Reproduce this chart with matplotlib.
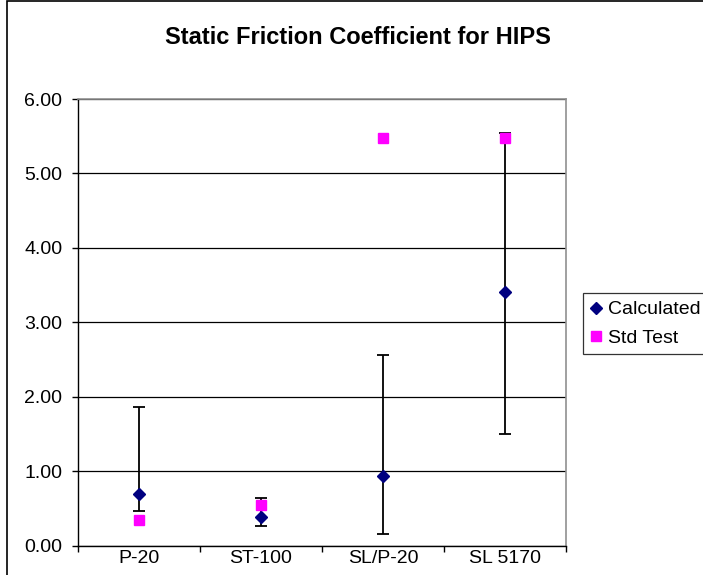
import matplotlib
matplotlib.use("Agg")
import matplotlib.pyplot as plt
from matplotlib.patches import Rectangle
import numpy as np

plt.rcParams['font.family'] = ['Liberation Sans', 'DejaVu Sans']

categories = ["P-20", "ST-100", "SL/P-20", "SL 5170"]
calculated = [0.69, 0.39, 0.94, 3.41]
calc_low = [0.47, 0.26, 0.16, 1.50]
calc_high = [1.86, 0.64, 2.56, 5.54]
std_test = [0.35, 0.54, 5.47, 5.47]
yticks = [0, 1, 2, 3, 4, 5, 6]

W, H = 703, 575
fig = plt.figure(figsize=(W / 100, H / 100), dpi=100)

# outer chart frame
fig.patches.append(Rectangle((7 / W, -0.1), 1.2, (H - 1) / H + 0.1, transform=fig.transFigure,
                             fill=False, edgecolor='black', linewidth=1.2))

ax = fig.add_axes([78 / W, (H - 545.7) / H, (566 - 78) / W, (545.7 - 99) / H])

x = np.arange(len(categories))
calc = np.array(calculated)
yerr = np.array([calc - np.array(calc_low), np.array(calc_high) - calc])

ax.errorbar(x, calc, yerr=yerr, fmt='none', ecolor='black', elinewidth=1.3,
            capsize=4.2, capthick=1.3, zorder=3)
ax.plot(x, calc, linestyle='none', marker='D', color='#000080', markersize=6.2, zorder=4,
        label='Calculated')
ax.plot(x, std_test, linestyle='none', marker='s', color='#FF00FF', markersize=7.5, zorder=5,
        label='Std Test')

ax.set_xlim(-0.5, len(categories) - 0.5)
ax.set_ylim(0, 6)
ax.set_yticks(yticks)
ax.set_yticklabels([f"{v:.2f}" for v in yticks], fontsize=14)
ax.yaxis.grid(True, color='black', linewidth=0.9)
ax.set_axisbelow(True)

ax.set_xticks(x)
ax.set_xticklabels(categories, fontsize=14)
ax.tick_params(axis='x', which='major', length=0, pad=3)
ax.set_xticks(np.arange(len(categories) + 1) - 0.5, minor=True)
ax.tick_params(axis='x', which='minor', length=4.3, width=1, direction='out')
ax.tick_params(axis='y', length=4.3, width=1, direction='out', pad=7)

for s in ['top', 'right']:
    ax.spines[s].set_color('#909090')
    ax.spines[s].set_linewidth(1.2)
for s in ['left', 'bottom']:
    ax.spines[s].set_color('black')
    ax.spines[s].set_linewidth(1.0)

fig.text(358 / W, 1 - 38 / H, "Static Friction Coefficient for HIPS", ha='center', va='center',
         fontsize=17, fontweight='bold')

leg = ax.legend(loc='upper left', bbox_to_anchor=(583 / W, 1 - 293 / H),
                bbox_transform=fig.transFigure, fontsize=14, frameon=True,
                fancybox=False, edgecolor='black', handlelength=0.5, handletextpad=0.4,
                borderpad=0.4, labelspacing=0.55, borderaxespad=0)
leg.get_frame().set_linewidth(0.9)

fig.savefig("out.png", dpi=100)
